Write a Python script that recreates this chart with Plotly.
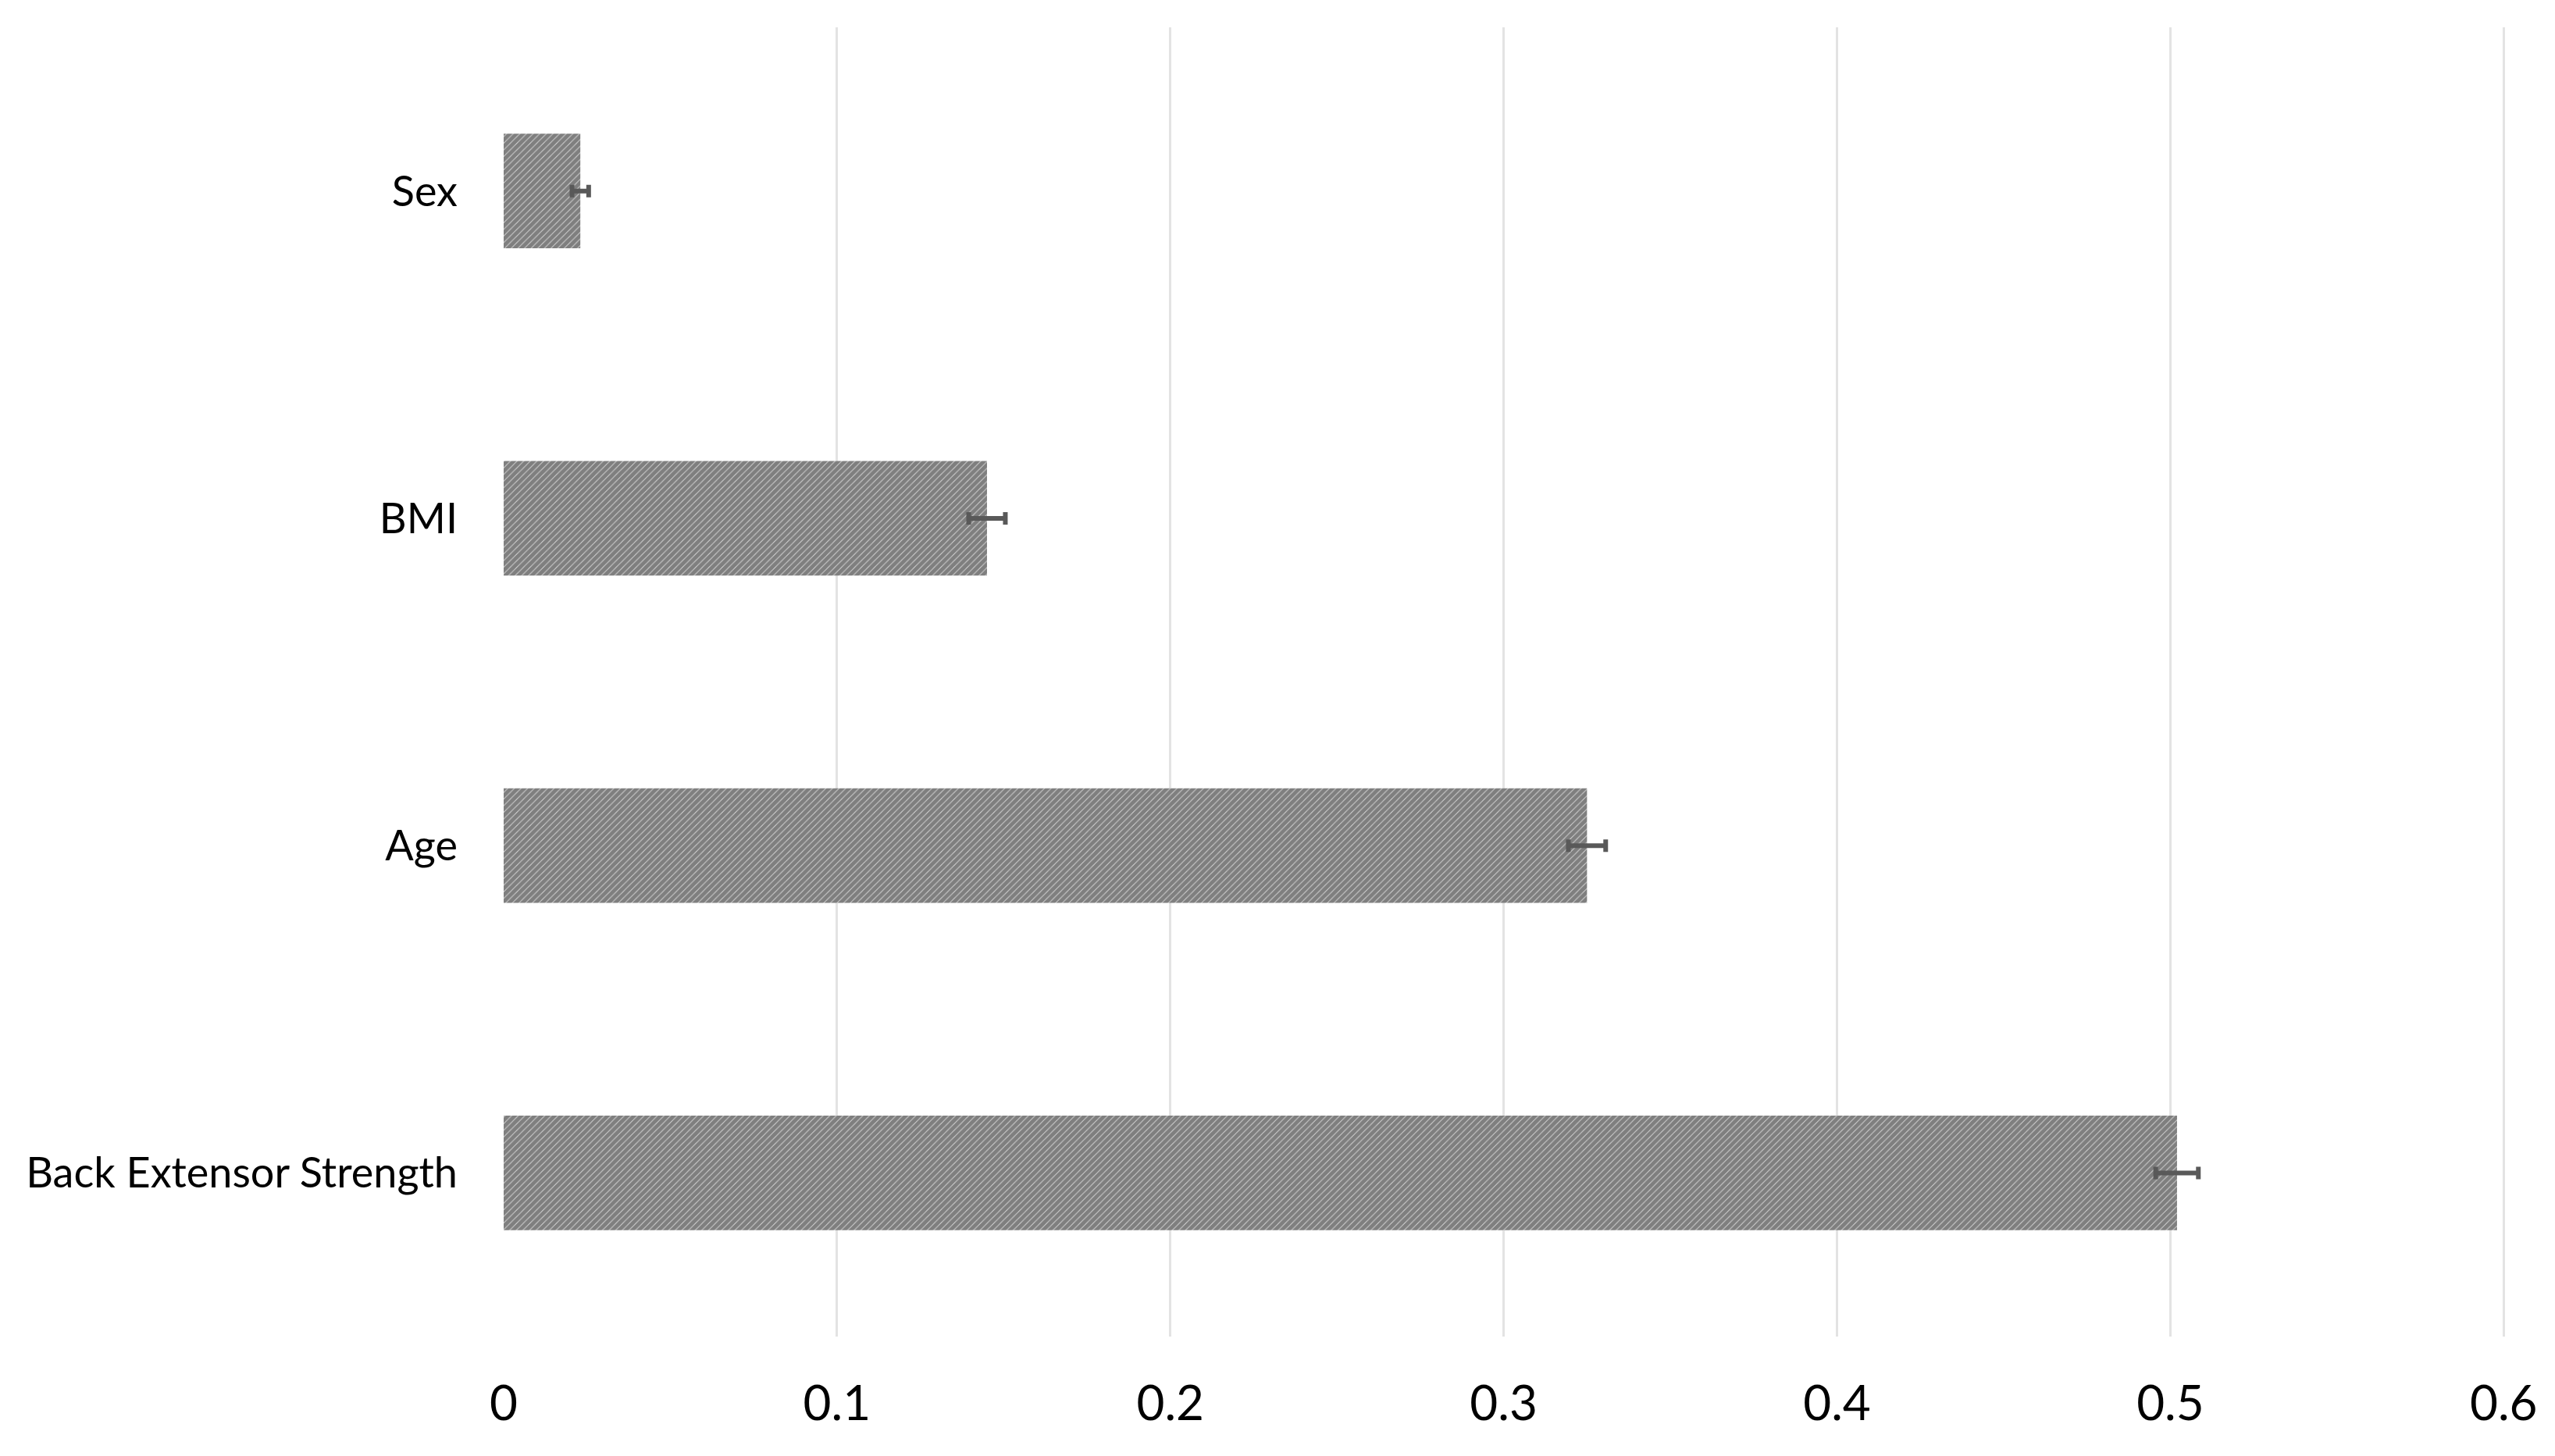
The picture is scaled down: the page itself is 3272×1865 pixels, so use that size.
import plotly.graph_objects as go

categories = ["Back Extensor Strength", "Age", "BMI", "Sex"]
values = [0.502, 0.325, 0.145, 0.023]
errors = [0.0064, 0.0056, 0.0055, 0.0025]
x_ticks = [0, 0.1, 0.2, 0.3, 0.4, 0.5, 0.6]
x_tick_labels = ["0", "0.1", "0.2", "0.3", "0.4", "0.5", "0.6"]

fig = go.Figure()
fig.add_trace(go.Bar(
    y=categories,
    x=values,
    orientation="h",
    width=0.35,
    marker=dict(
        color="white",
        line=dict(width=0),
        pattern=dict(shape="/", fgcolor="black", bgcolor="white", size=6, solidity=0.9),
    ),
    error_x=dict(type="data", array=errors, symmetric=True, color="#595959", thickness=6, width=8),
))

font_family = "Lato, Open Sans, sans-serif"
fig.update_layout(
    width=3272,
    height=1865,
    margin=dict(l=645, r=64, t=35, b=153),
    paper_bgcolor="white",
    plot_bgcolor="white",
    showlegend=False,
    font=dict(family=font_family, size=54, color="black"),
    xaxis=dict(
        range=[0, 0.6004],
        tickvals=x_ticks,
        ticktext=x_tick_labels,
        showgrid=True,
        gridcolor="#e3e3e3",
        gridwidth=3,
        zeroline=False,
        showline=False,
        ticks="",
        ticklabelstandoff=44,
        tickfont=dict(size=62),
        automargin=False,
    ),
    yaxis=dict(
        categoryorder="array",
        categoryarray=categories,
        range=[-0.5, 3.5],
        showgrid=False,
        zeroline=False,
        showline=False,
        ticks="",
        ticklabelstandoff=58,
        tickfont=dict(size=54),
        automargin=False,
    ),
)
fig.write_html(
    "out.html",
    config={"displayModeBar": False},
    post_script="document.body.style.margin='0';document.body.style.overflow='hidden';",
)
